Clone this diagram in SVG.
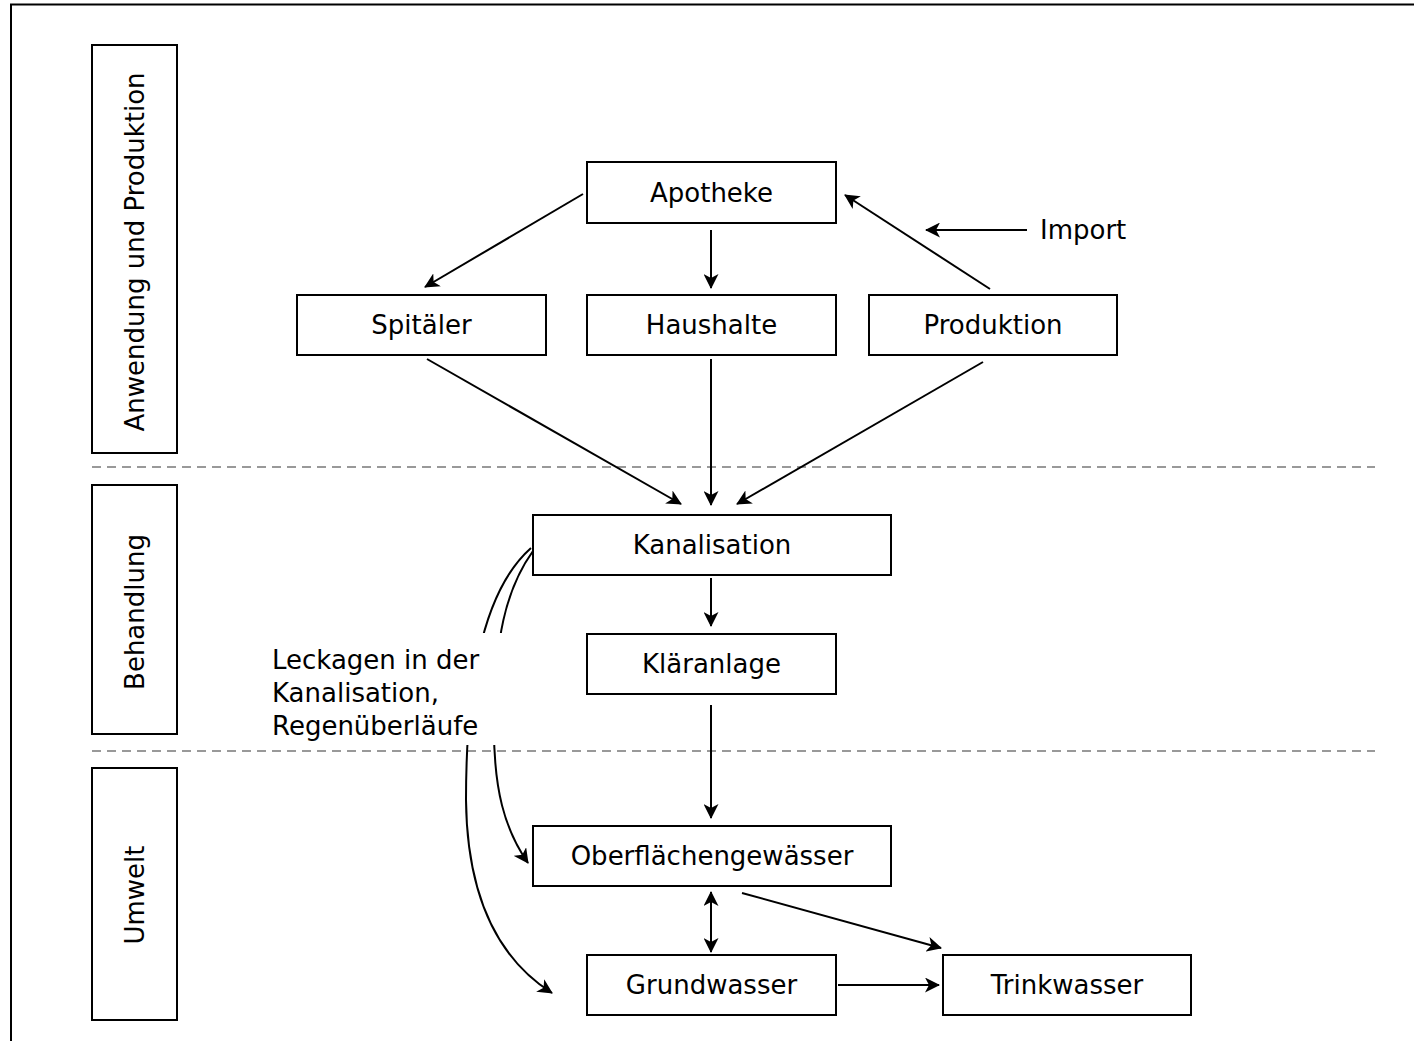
<svg xmlns="http://www.w3.org/2000/svg" width="1414" height="1041" viewBox="0 0 1414 1041">
<style>
.box{fill:#fff;stroke:#000;stroke-width:2}
.lbl{font-family:"DejaVu Sans",Verdana,sans-serif;font-size:26px;fill:#000}
.c{text-anchor:middle;dominant-baseline:central}
.edge{fill:none;stroke:#000;stroke-width:2}
.sep{stroke:#999;stroke-width:2;stroke-dasharray:9 6}
</style>
<defs>
<marker id="ah" viewBox="0 0 15 15" refX="14" refY="7.5" markerWidth="15" markerHeight="15" markerUnits="userSpaceOnUse" orient="auto-start-reverse">
<path d="M0,0 L15,7.5 L0,15 L4,7.5 Z" fill="#000"/>
</marker>
</defs>
<rect width="1414" height="1041" fill="#fff"/>
<g id="frame">
<path d="M11,1041 L11,4.5 L1414,4.5" fill="none" stroke="#000" stroke-width="2"/>
</g>
<g id="separators">
<line class="sep" x1="92" y1="467" x2="1375" y2="467"/>
<line class="sep" x1="92" y1="751" x2="1375" y2="751"/>
</g>
<g id="lane-anwendung"><rect class="box" x="92" y="45" width="85" height="408"/><text class="lbl c" transform="translate(134.5,252) rotate(-90)">Anwendung und Produktion</text></g>
<g id="lane-behandlung"><rect class="box" x="92" y="485" width="85" height="249"/><text class="lbl c" transform="translate(134.5,612) rotate(-90)">Behandlung</text></g>
<g id="lane-umwelt"><rect class="box" x="92" y="768" width="85" height="252"/><text class="lbl c" transform="translate(134.5,895) rotate(-90)">Umwelt</text></g>

<g id="connectors">
<line class="edge" x1="583" y1="194" x2="425" y2="287" marker-end="url(#ah)"/>
<line class="edge" x1="711" y1="230" x2="711" y2="288" marker-end="url(#ah)"/>
<line class="edge" x1="990" y1="289" x2="845" y2="195" marker-end="url(#ah)"/>
<line class="edge" x1="1027" y1="230" x2="926" y2="230" marker-end="url(#ah)"/>
<line class="edge" x1="427" y1="359" x2="681" y2="504" marker-end="url(#ah)"/>
<line class="edge" x1="711" y1="359" x2="711" y2="505" marker-end="url(#ah)"/>
<line class="edge" x1="983" y1="362" x2="737" y2="504" marker-end="url(#ah)"/>
<line class="edge" x1="711" y1="578" x2="711" y2="626" marker-end="url(#ah)"/>
<line class="edge" x1="711" y1="705" x2="711" y2="818" marker-end="url(#ah)"/>
<line class="edge" x1="711" y1="892" x2="711" y2="952" marker-start="url(#ah)" marker-end="url(#ah)"/>
<line class="edge" x1="742" y1="893" x2="941" y2="948" marker-end="url(#ah)"/>
<line class="edge" x1="838" y1="985" x2="939" y2="985" marker-end="url(#ah)"/>
<path class="edge" d="M531,548 C478,595 466,700 466,800 C467,900 500,960 552,993" marker-end="url(#ah)"/>
<path class="edge" d="M533,551 C505,590 495,640 494,720 C493,790 505,830 528,863" marker-end="url(#ah)"/>
</g>

<g id="leak-label">
<rect x="266" y="633" width="240" height="112" fill="#fff"/>
<text class="lbl" x="272" y="669">Leckagen in der</text>
<text class="lbl" x="272" y="702">Kanalisation,</text>
<text class="lbl" x="272" y="735">Regenüberläufe</text>
</g>
<g id="import-label"><text class="lbl" x="1040" y="239">Import</text></g>

<g id="apotheke"><rect class="box" x="587" y="162" width="249" height="61"/><text class="lbl c" x="711.5" y="192.5">Apotheke</text></g>
<g id="spitaeler"><rect class="box" x="297" y="295" width="249" height="60"/><text class="lbl c" x="421.5" y="325">Spitäler</text></g>
<g id="haushalte"><rect class="box" x="587" y="295" width="249" height="60"/><text class="lbl c" x="711.5" y="325">Haushalte</text></g>
<g id="produktion"><rect class="box" x="869" y="295" width="248" height="60"/><text class="lbl c" x="993" y="325">Produktion</text></g>
<g id="kanalisation"><rect class="box" x="533" y="515" width="358" height="60"/><text class="lbl c" x="712" y="545">Kanalisation</text></g>
<g id="klaeranlage"><rect class="box" x="587" y="634" width="249" height="60"/><text class="lbl c" x="711.5" y="664">Kläranlage</text></g>
<g id="oberflaechengewaesser"><rect class="box" x="533" y="826" width="358" height="60"/><text class="lbl c" x="712" y="856">Oberflächengewässer</text></g>
<g id="grundwasser"><rect class="box" x="587" y="955" width="249" height="60"/><text class="lbl c" x="711.5" y="985">Grundwasser</text></g>
<g id="trinkwasser"><rect class="box" x="943" y="955" width="248" height="60"/><text class="lbl c" x="1067" y="985">Trinkwasser</text></g>
</svg>
